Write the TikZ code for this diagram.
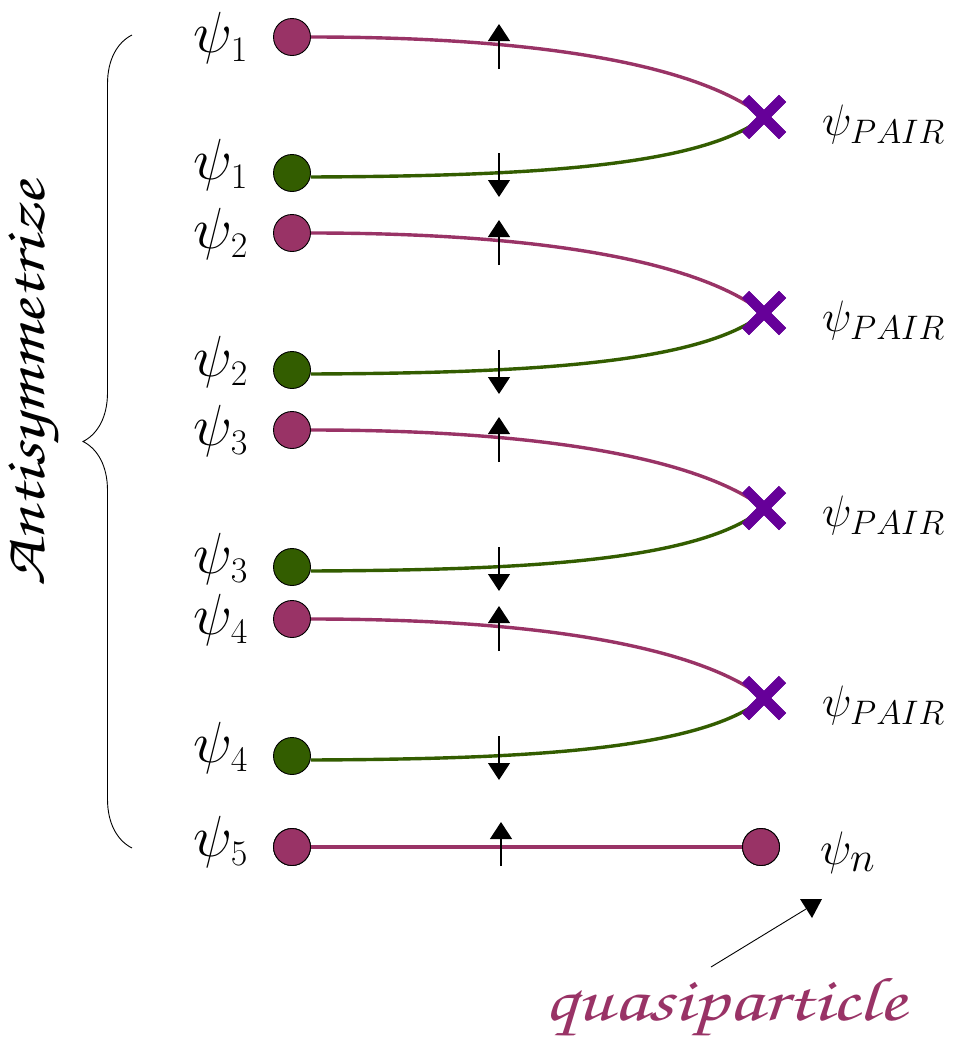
\RequirePackage{fix-cm}
\documentclass[tikz,border=0pt]{standalone}
\usepackage[T1,TU]{fontenc}
\usetikzlibrary{decorations.pathreplacing,arrows.meta,shapes.misc,calc}
\definecolor{magq}{RGB}{153,51,102}
\definecolor{grnq}{RGB}{51,93,0}
\definecolor{crsq}{RGB}{102,0,153}
\DeclareMathSizes{58}{58}{36}{28}
\DeclareMathSizes{44}{44}{34}{26}
\DeclareMathSizes{47}{47}{42}{30}
\newcommand{\scriptfnt}{\fontencoding{T1}\fontfamily{pzc}\fontseries{mb}\fontshape{it}\selectfont}
\tikzset{
  dotm/.style={circle,draw=black,line width=0.9pt,fill=magq,minimum size=37pt,inner sep=0pt},
  dotg/.style={circle,draw=black,line width=0.9pt,fill=grnq,minimum size=37pt,inner sep=0pt},
  crossnode/.style={cross out,draw=crsq,line width=10pt,minimum size=27pt,inner sep=0pt},
  lineM/.style={draw=magq,line width=3.4pt},
  lineG/.style={draw=grnq,line width=3.4pt},
  spin/.style={line width=1.1pt,-{Triangle[width=22pt,length=17pt]}},
  psilab/.style={anchor=east,inner sep=0pt,font=\fontsize{58}{66}\selectfont},
  pairlab/.style={anchor=west,inner sep=0pt,font=\fontsize{44}{52}\selectfont},
}
\begin{document}
\begin{tikzpicture}[x=1pt,y=-1pt]
\useasboundingbox[fill=white] (0,0) rectangle (959,1037);
\foreach \i/\pu/\gr/\cr in {1/37/173/117, 2/233/370/313, 3/430/567/508, 4/619/756/698}{
  \node[dotm] (u\i) at (292,\pu) {};
  \node[dotg] (d\i) at (292,\gr) {};
  \node[crossnode] (x\i) at (764,\cr) {};
  \path[lineM] (u\i.east) .. controls (550,\pu) and ($(700,\pu)+(0,30)$) .. (x\i.center);
  \path[lineG] ($(d\i.east)+(0,4)$) .. controls ($(520,\gr)+(0,3)$) and ($(700,\gr)+(0,-5)$) .. (x\i.center);
  \node[crossnode] at (x\i) {};
  \node[psilab] (lu\i) at (248,\pu+1) {$\psi_{\i}$};
  \node[psilab] (ld\i) at (248,\gr-8) {$\psi_{\i}$};
  \node[pairlab] (p\i) at (822,\cr+7) {$\psi_{PAIR}$};
  \coordinate (sa\i) at (499,\pu+32);
  \coordinate (sb\i) at (499,\pu-13);
  \coordinate (sc\i) at (499,\gr-20);
  \coordinate (sd\i) at (499,\gr+24);
  \draw[spin] (sa\i) -- (sb\i);
  \draw[spin] (sc\i) -- (sd\i);
}
\node[dotm] (u5) at (292,847) {};
\node[dotm] (qn) at (761,847) {};
\draw[lineM] (u5) -- (qn);
\node[dotm] at (u5) {};
\node[dotm] at (qn) {};
\node[psilab] (l5) at (248,842) {$\psi_5$};
\node[anchor=west,inner sep=0pt,font=\fontsize{47}{52}\selectfont] (ln) at (820,853) {$\psi_n$};
\coordinate (s5a) at (501,866);
\coordinate (s5b) at (501,822);
\draw[spin] (s5a) -- (s5b);
\coordinate (bt) at (132,35);
\coordinate (bb) at (132,848);
\draw[line width=0.9pt,decorate,decoration={brace,amplitude=49pt}] (bb) -- (bt);
\node[rotate=90,xscale=1.25,inner sep=0pt,font=\fontsize{58}{64}\scriptfnt] (anti) at (36,384) {Antisymmetrize};
\node[xscale=1.3,inner sep=0pt,text=magq,font=\fontsize{62}{68}\scriptfnt,anchor=base] (quasi) at (725,1020) {quasiparticle};
\coordinate (qs) at (711,967);
\coordinate (qt) at (806,909);
\draw[line width=0.9pt] (qs) -- (qt);
\fill ($(qt)+(-6,-10)$) -- ($(qt)+(16,-10)$) -- ($(qt)+(6,9)$) -- cycle;
\end{tikzpicture}
\end{document}
